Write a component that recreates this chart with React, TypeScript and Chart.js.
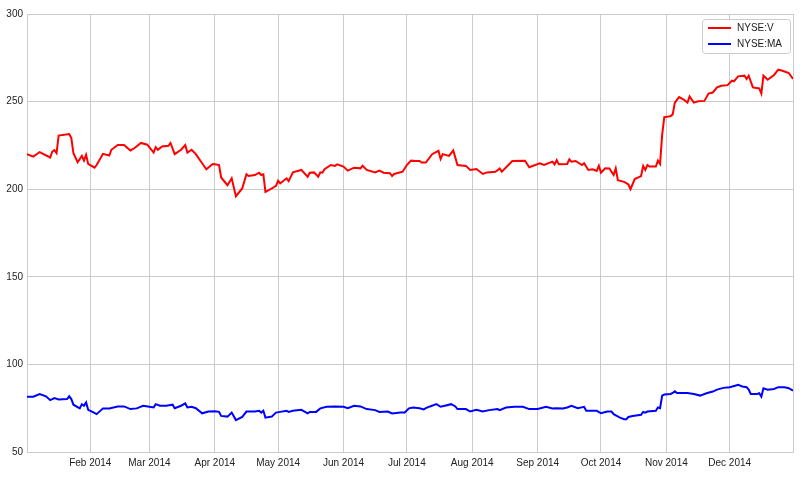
import React, { useEffect, useRef } from "react";
import { Chart, registerables, ChartConfiguration, Plugin } from "chart.js";

Chart.register(...registerables);

// day of 2014 (Jan 1 = 0) and closing prices
const vDays = [
  1, 4, 7, 12, 13, 14, 15, 16, 21, 22, 23, 25, 27, 28, 29, 30, 33, 34, 37, 40,
  41, 44, 47, 50, 52, 55, 58, 61, 62, 63, 65, 68, 69, 71, 74, 76, 77, 79, 81, 84,
  86, 89, 90, 92, 93, 96, 98, 100, 103, 105, 106, 109, 111, 112, 113, 114, 117, 119, 120, 121,
  124, 125, 127, 131, 134, 135, 137, 139, 140, 141, 142, 145, 147, 148, 151, 153, 156, 159, 160, 162,
  166, 168, 170, 173, 174, 175, 179, 181, 183, 185, 187, 188, 190, 193, 196, 197, 198, 201, 202, 203,
  205, 209, 211, 214, 217, 219, 223, 225, 226, 231, 237, 239, 244, 246, 250, 251, 252, 253, 257, 258,
  259, 261, 264, 265, 267, 269, 271, 272, 273, 275, 277, 279, 280, 281, 284, 286, 287, 289, 292, 293,
  294, 295, 296, 299, 300, 301, 302, 303, 306, 307, 308, 310, 312, 314, 315, 317, 319, 322, 324, 326,
  328, 330, 333, 335, 336, 338, 341, 342, 343, 345, 348, 349, 350, 352, 355, 357, 359, 362, 364,
];
const vPrices = [
  220.0, 218.6, 221.2, 218.1, 221.5, 222.3, 220.6, 230.6, 231.5, 229.2, 220.6, 215.4, 219.0, 216.3, 219.6, 214.4, 212.3, 213.8, 220.2, 219.2,
  222.5, 225.2, 225.2, 222.1, 223.5, 226.4, 225.4, 220.9, 224.0, 222.5, 224.4, 224.8, 226.4, 220.0, 222.5, 225.2, 220.9, 222.5, 220.0, 214.8,
  211.4, 214.4, 214.2, 213.8, 206.7, 202.3, 206.2, 196.0, 200.4, 208.5, 207.5, 208.1, 209.4, 208.1, 208.5, 198.4, 200.4, 201.9, 204.8, 203.3,
  206.2, 204.6, 209.6, 211.0, 207.1, 209.4, 209.6, 207.1, 209.6, 209.4, 211.4, 213.8, 213.3, 214.2, 212.9, 210.6, 212.3, 211.9, 213.4, 211.0,
  209.6, 210.6, 209.4, 209.1, 207.5, 208.7, 210.0, 213.8, 216.3, 216.1, 216.1, 215.2, 215.2, 220.0, 221.9, 217.3, 220.0, 219.0, 220.6, 222.1,
  213.8, 213.3, 211.0, 211.5, 208.7, 209.6, 210.0, 211.9, 210.0, 216.1, 216.3, 212.5, 214.8, 213.8, 215.7, 214.2, 216.7, 214.2, 214.4, 217.1,
  215.7, 216.1, 213.8, 214.8, 211.0, 211.4, 210.4, 213.4, 209.4, 211.9, 211.8, 208.1, 211.9, 205.2, 204.2, 202.7, 200.0, 205.8, 207.5, 213.3,
  211.0, 213.8, 212.9, 212.9, 216.3, 214.4, 231.1, 241.1, 241.7, 242.7, 249.4, 252.6, 251.3, 249.4, 252.9, 249.4, 250.2, 250.4, 254.6, 255.2,
  258.1, 259.0, 259.4, 261.9, 261.5, 264.4, 264.8, 262.9, 264.8, 258.1, 257.5, 254.6, 264.8, 262.5, 265.2, 268.2, 267.6, 266.3, 262.9,
];

const maDays = [
  1, 4, 7, 10, 12, 14, 16, 20, 21, 22, 23, 26, 27, 28, 29, 30, 32, 34, 37, 40,
  44, 47, 50, 53, 56, 59, 61, 62, 64, 67, 70, 71, 74, 76, 77, 79, 81, 84, 87, 90,
  92, 93, 96, 98, 100, 103, 105, 109, 111, 112, 113, 114, 117, 119, 121, 124, 125, 127, 131, 134,
  135, 138, 140, 143, 147, 151, 153, 156, 159, 162, 166, 168, 172, 174, 178, 180, 182, 184, 187, 189,
  190, 192, 195, 197, 199, 202, 204, 205, 209, 211, 214, 217, 220, 224, 225, 228, 232, 236, 239, 243,
  247, 250, 252, 255, 257, 259, 262, 265, 266, 271, 273, 276, 278, 279, 282, 284, 285, 286, 288, 292,
  293, 294, 295, 299, 300, 301, 302, 303, 306, 307, 308, 309, 314, 317, 320, 323, 326, 328, 331, 334,
  337, 338, 340, 342, 343, 344, 347, 348, 349, 350, 352, 355, 357, 360, 362, 364,
];
const maPrices = [
  81.6, 81.6, 83.1, 81.8, 79.6, 80.8, 80.0, 80.2, 81.8, 80.2, 77.0, 74.9, 77.3, 76.4, 78.3, 74.1, 72.9, 71.6, 74.9, 74.9,
  76.0, 76.0, 74.5, 74.9, 76.4, 75.8, 75.4, 77.3, 76.4, 76.4, 77.0, 75.0, 76.4, 77.7, 75.4, 75.8, 75.0, 72.1, 73.1, 73.3,
  72.9, 70.6, 70.2, 72.5, 68.2, 70.0, 73.1, 73.1, 73.5, 72.5, 73.5, 69.6, 70.2, 72.5, 72.9, 73.5, 72.9, 73.5, 74.1, 72.1,
  72.9, 72.9, 74.9, 75.8, 76.0, 75.8, 75.0, 76.4, 76.0, 74.5, 73.9, 72.9, 73.1, 72.0, 72.5, 72.5, 74.9, 75.4, 75.0, 74.3,
  75.0, 76.0, 77.3, 75.8, 76.4, 77.3, 76.0, 74.5, 74.5, 73.1, 74.1, 73.1, 73.9, 74.5, 73.9, 75.4, 75.8, 75.8, 74.5, 74.5,
  75.8, 74.9, 75.0, 74.9, 75.4, 76.4, 75.0, 75.8, 73.5, 73.5, 72.1, 73.1, 73.1, 71.6, 69.6, 68.7, 68.7, 70.0, 70.6, 71.2,
  72.9, 72.5, 73.1, 73.5, 75.4, 75.0, 82.2, 82.8, 83.1, 83.7, 84.7, 83.7, 83.7, 83.1, 82.2, 83.5, 84.5, 85.6, 86.6, 87.0,
  88.0, 88.3, 87.4, 87.0, 85.6, 83.1, 83.1, 83.5, 81.6, 86.4, 85.6, 86.0, 87.0, 87.0, 86.4, 85.0,
];

const monthStarts = [31, 59, 90, 120, 151, 181, 212, 243, 273, 304, 334];
const monthLabels = [
  "Feb 2014", "Mar 2014", "Apr 2014", "May 2014", "Jun 2014", "Jul 2014",
  "Aug 2014", "Sep 2014", "Oct 2014", "Nov 2014", "Dec 2014",
];
const yTicks = [50, 100, 150, 200, 250, 300];

const FONT = "'Liberation Sans', Arial, sans-serif";
const GRID = "#cbcbcb";

// outline around the plot area
const framePlugin: Plugin = {
  id: "frame",
  beforeDatasetsDraw(chart) {
    const { ctx, chartArea: a } = chart;
    ctx.save();
    ctx.strokeStyle = GRID;
    ctx.lineWidth = 1;
    ctx.strokeRect(Math.round(a.left) + 0.5, Math.round(a.top) + 0.5, Math.round(a.right - a.left), Math.round(a.bottom - a.top));
    ctx.restore();
  },
};

// matplotlib-style legend box in the upper right corner
const legendBoxPlugin: Plugin = {
  id: "legendBox",
  afterDatasetsDraw(chart) {
    const { ctx, chartArea: a } = chart;
    const w = 88;
    const h = 34;
    const x = a.right - w - 3;
    const y = a.top + 5;
    ctx.save();
    ctx.fillStyle = "rgba(255,255,255,0.9)";
    ctx.strokeStyle = GRID;
    ctx.lineWidth = 1;
    ctx.beginPath();
    ctx.roundRect(x + 0.5, y + 0.5, w, h, 3);
    ctx.fill();
    ctx.stroke();
    ctx.font = `10px ${FONT}`;
    ctx.textBaseline = "middle";
    chart.data.datasets.forEach((ds, i) => {
      const ry = y + 9 + i * 16;
      ctx.strokeStyle = ds.borderColor as string;
      ctx.lineWidth = 2;
      ctx.beginPath();
      ctx.moveTo(x + 6, ry);
      ctx.lineTo(x + 29, ry);
      ctx.stroke();
      ctx.fillStyle = "#222";
      ctx.fillText(ds.label ?? "", x + 35, ry);
    });
    ctx.restore();
  },
};

const App: React.FC = () => {
  const canvasRef = useRef<HTMLCanvasElement | null>(null);

  useEffect(() => {
    document.body.style.margin = "0";
    if (!canvasRef.current) return;

    const config: ChartConfiguration<"line"> = {
      type: "line",
      data: {
        datasets: [
          {
            label: "NYSE:V",
            data: vDays.map((d, i) => ({ x: d, y: vPrices[i] })),
            borderColor: "#ff0000",
            borderWidth: 2,
            pointRadius: 0,
            tension: 0,
          },
          {
            label: "NYSE:MA",
            data: maDays.map((d, i) => ({ x: d, y: maPrices[i] })),
            borderColor: "#0000ff",
            borderWidth: 2,
            pointRadius: 0,
            tension: 0,
          },
        ],
      },
      options: {
        animation: false,
        responsive: false,
        layout: { padding: { top: 14, right: 7, left: 0, bottom: 0 } },
        plugins: {
          legend: { display: false },
          tooltip: { enabled: false },
        },
        scales: {
          x: {
            type: "linear",
            min: 1,
            max: 364,
            afterBuildTicks: (scale) => {
              scale.ticks = monthStarts.map((v) => ({ value: v }));
            },
            afterFit: (scale) => {
              scale.height = 26;
            },
            ticks: {
              autoSkip: false,
              maxRotation: 0,
              padding: 5,
              color: "#222",
              font: { family: FONT, size: 10 },
              callback: (_v, i) => monthLabels[i],
            },
            grid: { color: GRID, drawTicks: false },
            border: { display: false },
          },
          y: {
            min: 50,
            max: 300,
            afterBuildTicks: (scale) => {
              scale.ticks = yTicks.map((v) => ({ value: v }));
            },
            afterFit: (scale) => {
              scale.width = 27;
            },
            ticks: {
              padding: 4,
              color: "#222",
              font: { family: FONT, size: 10 },
            },
            grid: { color: GRID, drawTicks: false },
            border: { display: false },
          },
        },
      },
      plugins: [framePlugin, legendBoxPlugin],
    };

    const chart = new Chart(canvasRef.current, config);
    return () => {
      chart.destroy();
    };
  }, []);

  return (
    <div style={{ width: 800, height: 478 }}>
      <canvas ref={canvasRef} width={800} height={478} />
    </div>
  );
};

export default App;
